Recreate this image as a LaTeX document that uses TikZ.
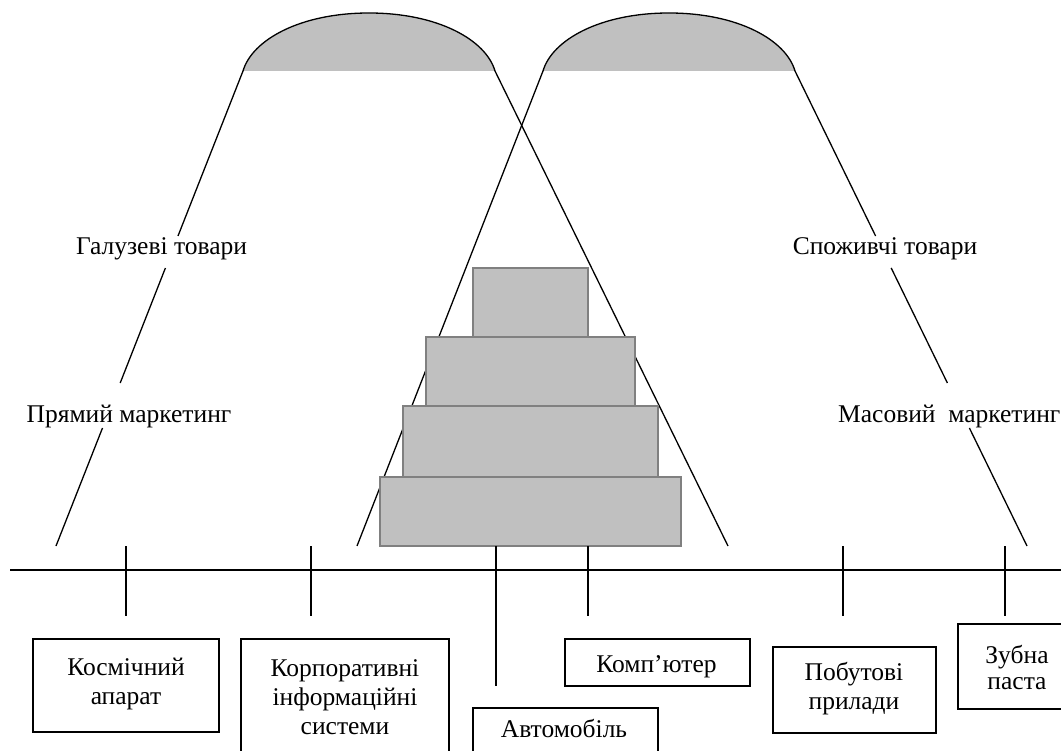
\documentclass[tikz,border=0pt]{standalone}
\usepackage{fontspec}
\setmainfont{Liberation Serif}
\definecolor{domegray}{RGB}{192,192,192}
\definecolor{edgegray}{RGB}{128,128,128}
\begin{document}
\begin{tikzpicture}[x=1pt,y=-1pt,
  line/.style={line width=1.3pt, black},
  tier/.style={draw=edgegray, fill=domegray, line width=1.5pt},
  box/.style={draw, line width=1.4pt, rectangle, inner sep=0pt},
  txt/.style={font=\fontsize{25.5}{29}\selectfont, align=center, inner sep=0pt},
  tickline/.style={line width=1.3pt}]
\useasboundingbox (0,0) rectangle (1061,751);
\clip (0,0) rectangle (1061,751);

% domes
\coordinate (d1l) at (243,71); \coordinate (d1r) at (495,71);
\coordinate (d2l) at (543,71); \coordinate (d2r) at (795,71);
\fill[domegray] (d1l) .. controls (252,40) and (300,13) .. (369,13) .. controls (438,13) and (486,40) .. (d1r) -- cycle;
\draw[line] (d1l) .. controls (252,40) and (300,13) .. (369,13) .. controls (438,13) and (486,40) .. (d1r);
\fill[domegray] (d2l) .. controls (552,40) and (600,13) .. (669,13) .. controls (738,13) and (786,40) .. (d2r) -- cycle;
\draw[line] (d2l) .. controls (552,40) and (600,13) .. (669,13) .. controls (738,13) and (786,40) .. (d2r);

% slanted lines
\coordinate (l1b) at (56,546);
\coordinate (l2b) at (728,546);
\coordinate (l3b) at (357,546);
\coordinate (l4b) at (1027,546);
\draw[line] (d1l) -- (178.0,236);
\draw[line] (165.4,268) -- (120.2,383);
\draw[line] (102.5,428) -- (l1b);
\draw[line] (d1r) -- (l2b);
\draw[line] (d2l) -- (l3b);
\draw[line] (d2r) -- (875.6,236);
\draw[line] (891.2,268) -- (947.4,383);
\draw[line] (969.4,428) -- (l4b);

% pyramid
\draw[tier] (380,477) rectangle (681,546);
\draw[tier] (403,406) rectangle (658,477);
\draw[tier] (426,337) rectangle (635,406);
\draw[tier] (473,268) rectangle (588,337);

% axis and ticks
\coordinate (axl) at (10,570); \coordinate (axr) at (1061,570);
\draw[line] (axl) -- (axr);
\foreach \x in {126,311,588,843,1005} {\draw[tickline] (\x,546) -- (\x,616);}
\draw[tickline] (496,546) -- (496,686);

% outer labels
\node[txt, anchor=base] (galuz) at (161.5,255) {Галузеві товари};
\node[txt, anchor=base] (pryam) at (129,422) {Прямий маркетинг};
\node[txt, anchor=base] (spozh) at (885,255) {Споживчі товари};
\node[txt, anchor=base west] (masov) at (838,422) {Масовий~ маркетинг};

% boxes
\draw[box] (33,639) rectangle (219,732);
\draw[box] (241,639) rectangle (449,770);
\draw[box] (473,708) rectangle (658,780);
\draw[box] (565,639) rectangle (750,686);
\draw[box] (773,647) rectangle (936,733);
\draw[box] (958,624) rectangle (1085,709);

\node[txt] (kosm) at (126,684) {Космічний\\апарат};
\node[txt] (korp) at (345,697) {Корпоративні\\інформаційні\\системи};
\node[txt, anchor=base] (avto) at (564,737) {Автомобіль};
\node[txt, anchor=base] (komp) at (656.5,672) {Комп’ютер};
\node[txt] (pobut) at (854,689) {Побутові\\прилади};
\node[txt, font=\fontsize{25.5}{26}\selectfont] (zubna) at (1017,667) {Зубна\\паста};
\end{tikzpicture}
\end{document}
